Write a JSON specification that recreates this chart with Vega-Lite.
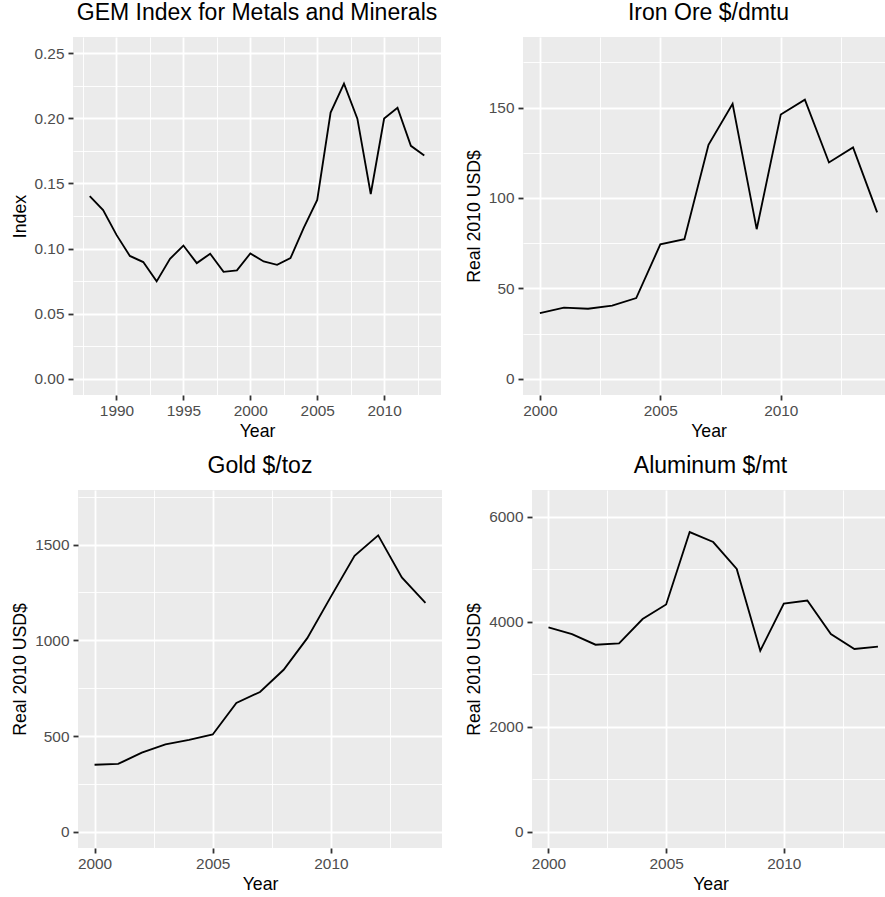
{
  "$schema": "https://vega.github.io/schema/vega-lite/v6.json",
  "padding": {"left": 11, "top": 2, "right": 0, "bottom": 0},
  "background": "#FFFFFF",
  "datasets": {
    "gem": [
      {"year": 1988, "value": 0.1403}, {"year": 1989, "value": 0.1296}, {"year": 1990, "value": 0.1105},
      {"year": 1991, "value": 0.0943}, {"year": 1992, "value": 0.0896}, {"year": 1993, "value": 0.0748},
      {"year": 1994, "value": 0.0921}, {"year": 1995, "value": 0.1023}, {"year": 1996, "value": 0.0888},
      {"year": 1997, "value": 0.0960}, {"year": 1998, "value": 0.0821}, {"year": 1999, "value": 0.0832},
      {"year": 2000, "value": 0.0962}, {"year": 2001, "value": 0.0901}, {"year": 2002, "value": 0.0875},
      {"year": 2003, "value": 0.0926}, {"year": 2004, "value": 0.1160}, {"year": 2005, "value": 0.1373},
      {"year": 2006, "value": 0.2044}, {"year": 2007, "value": 0.2266}, {"year": 2008, "value": 0.1998},
      {"year": 2009, "value": 0.1419}, {"year": 2010, "value": 0.1998}, {"year": 2011, "value": 0.2082},
      {"year": 2012, "value": 0.1789}, {"year": 2013, "value": 0.1715}
    ],
    "iron": [
      {"year": 2000, "value": 36.3}, {"year": 2001, "value": 39.3}, {"year": 2002, "value": 38.7},
      {"year": 2003, "value": 40.4}, {"year": 2004, "value": 44.6}, {"year": 2005, "value": 74.3},
      {"year": 2006, "value": 77.2}, {"year": 2007, "value": 129.4}, {"year": 2008, "value": 152.0},
      {"year": 2009, "value": 82.7}, {"year": 2010, "value": 146.1}, {"year": 2011, "value": 154.3},
      {"year": 2012, "value": 119.6}, {"year": 2013, "value": 127.9}, {"year": 2014, "value": 92.0}
    ],
    "gold": [
      {"year": 2000, "value": 350}, {"year": 2001, "value": 354}, {"year": 2002, "value": 413},
      {"year": 2003, "value": 456}, {"year": 2004, "value": 480}, {"year": 2005, "value": 508},
      {"year": 2006, "value": 673}, {"year": 2007, "value": 730}, {"year": 2008, "value": 846},
      {"year": 2009, "value": 1011}, {"year": 2010, "value": 1228}, {"year": 2011, "value": 1441},
      {"year": 2012, "value": 1548}, {"year": 2013, "value": 1328}, {"year": 2014, "value": 1196}
    ],
    "alu": [
      {"year": 2000, "value": 3892}, {"year": 2001, "value": 3766}, {"year": 2002, "value": 3563},
      {"year": 2003, "value": 3589}, {"year": 2004, "value": 4051}, {"year": 2005, "value": 4329},
      {"year": 2006, "value": 5709}, {"year": 2007, "value": 5519}, {"year": 2008, "value": 5006},
      {"year": 2009, "value": 3449}, {"year": 2010, "value": 4348}, {"year": 2011, "value": 4405},
      {"year": 2012, "value": 3766}, {"year": 2013, "value": 3481}, {"year": 2014, "value": 3525}
    ]
  },
  "center": true,
  "spacing": 13,
  "vconcat": [
    {
      "bounds": "flush",
      "spacing": 82,
      "hconcat": [
        {
          "title": "GEM Index for Metals and Minerals",
          "width": 368,
          "height": 358,
          "data": {"name": "gem"},
          "mark": {"type": "line"},
          "encoding": {
            "x": {
              "field": "year", "type": "quantitative", "title": "Year",
              "scale": {"domain": [1986.75, 2014.25], "nice": false, "zero": false},
              "axis": {
                "values": [1987.5, 1990, 1992.5, 1995, 1997.5, 2000, 2002.5, 2005, 2007.5, 2010, 2012.5],
                "format": "d",
                "labelExpr": "datum.value % 5 === 0 ? datum.label : ''",
                "tickOpacity": {"condition": {"test": "datum.value % 5 === 0", "value": 1}, "value": 0},
                "gridWidth": {"condition": {"test": "datum.value % 5 === 0", "value": 1.8}, "value": 0.9}
              }
            },
            "y": {
              "field": "value", "type": "quantitative", "title": "Index",
              "scale": {"domain": [-0.0125, 0.2625], "nice": false, "zero": false},
              "axis": {
                "values": [0, 0.025, 0.05, 0.075, 0.1, 0.125, 0.15, 0.175, 0.2, 0.225, 0.25],
                "format": ".2f",
                "labelExpr": "abs(datum.value*20 - round(datum.value*20)) < 0.001 ? datum.label : ''",
                "tickOpacity": {"condition": {"test": "abs(datum.value*20 - round(datum.value*20)) < 0.001", "value": 1}, "value": 0},
                "gridWidth": {"condition": {"test": "abs(datum.value*20 - round(datum.value*20)) < 0.001", "value": 1.8}, "value": 0.9}
              }
            }
          }
        },
        {
          "title": "Iron Ore $/dmtu",
          "width": 371,
          "height": 358,
          "data": {"name": "iron"},
          "mark": {"type": "line"},
          "encoding": {
            "x": {
              "field": "year", "type": "quantitative", "title": "Year",
              "scale": {"domain": [1999.3, 2014.7], "nice": false, "zero": false},
              "axis": {
                "values": [2000, 2002.5, 2005, 2007.5, 2010, 2012.5],
                "format": "d",
                "labelExpr": "datum.value % 5 === 0 ? datum.label : ''",
                "tickOpacity": {"condition": {"test": "datum.value % 5 === 0", "value": 1}, "value": 0},
                "gridWidth": {"condition": {"test": "datum.value % 5 === 0", "value": 1.8}, "value": 0.9}
              }
            },
            "y": {
              "field": "value", "type": "quantitative", "title": "Real 2010 USD$",
              "scale": {"domain": [-9, 189], "nice": false, "zero": false},
              "axis": {
                "values": [0, 25, 50, 75, 100, 125, 150, 175],
                "format": "d",
                "labelExpr": "datum.value % 50 === 0 ? datum.label : ''",
                "tickOpacity": {"condition": {"test": "datum.value % 50 === 0", "value": 1}, "value": 0},
                "gridWidth": {"condition": {"test": "datum.value % 50 === 0", "value": 1.8}, "value": 0.9}
              }
            }
          }
        }
      ]
    },
    {
      "bounds": "flush",
      "spacing": 90,
      "hconcat": [
        {
          "title": "Gold $/toz",
          "width": 364,
          "height": 358,
          "data": {"name": "gold"},
          "mark": {"type": "line"},
          "encoding": {
            "x": {
              "field": "year", "type": "quantitative", "title": "Year",
              "scale": {"domain": [1999.3, 2014.7], "nice": false, "zero": false},
              "axis": {
                "values": [2000, 2002.5, 2005, 2007.5, 2010, 2012.5],
                "format": "d",
                "labelExpr": "datum.value % 5 === 0 ? datum.label : ''",
                "tickOpacity": {"condition": {"test": "datum.value % 5 === 0", "value": 1}, "value": 0},
                "gridWidth": {"condition": {"test": "datum.value % 5 === 0", "value": 1.8}, "value": 0.9}
              }
            },
            "y": {
              "field": "value", "type": "quantitative", "title": "Real 2010 USD$",
              "scale": {"domain": [-85, 1785], "nice": false, "zero": false},
              "axis": {
                "values": [0, 250, 500, 750, 1000, 1250, 1500, 1750],
                "format": "d",
                "labelExpr": "datum.value % 500 === 0 ? datum.label : ''",
                "tickOpacity": {"condition": {"test": "datum.value % 500 === 0", "value": 1}, "value": 0},
                "gridWidth": {"condition": {"test": "datum.value % 500 === 0", "value": 1.8}, "value": 0.9}
              }
            }
          }
        },
        {
          "title": "Aluminum $/mt",
          "width": 357,
          "height": 358,
          "data": {"name": "alu"},
          "mark": {"type": "line"},
          "encoding": {
            "x": {
              "field": "year", "type": "quantitative", "title": "Year",
              "scale": {"domain": [1999.3, 2014.47], "nice": false, "zero": false},
              "axis": {
                "values": [2000, 2002.5, 2005, 2007.5, 2010, 2012.5],
                "format": "d",
                "labelExpr": "datum.value % 5 === 0 ? datum.label : ''",
                "tickOpacity": {"condition": {"test": "datum.value % 5 === 0", "value": 1}, "value": 0},
                "gridWidth": {"condition": {"test": "datum.value % 5 === 0", "value": 1.8}, "value": 0.9}
              }
            },
            "y": {
              "field": "value", "type": "quantitative", "title": "Real 2010 USD$",
              "scale": {"domain": [-310, 6510], "nice": false, "zero": false},
              "axis": {
                "values": [0, 1000, 2000, 3000, 4000, 5000, 6000],
                "format": "d",
                "labelExpr": "datum.value % 2000 === 0 ? datum.label : ''",
                "tickOpacity": {"condition": {"test": "datum.value % 2000 === 0", "value": 1}, "value": 0},
                "gridWidth": {"condition": {"test": "datum.value % 2000 === 0", "value": 1.8}, "value": 0.9}
              }
            }
          }
        }
      ]
    }
  ],
  "config": {
    "font": "Liberation Sans",
    "view": {"fill": "#EBEBEB", "stroke": null},
    "axis": {
      "domain": false,
      "grid": true,
      "gridColor": "#FFFFFF",
      "gridOpacity": 1,
      "tickColor": "#333333",
      "tickWidth": 1.8,
      "tickSize": 5,
      "labelColor": "#4D4D4D",
      "labelFont": "Liberation Sans",
      "labelFontSize": 15.4,
      "labelOverlap": false,
      "labelFlush": false,
      "titleFont": "Liberation Sans",
      "titleFontSize": 17.7,
      "titleFontWeight": "normal",
      "titleColor": "#000000"
    },
    "axisX": {"labelPadding": 3, "titlePadding": 4},
    "axisY": {"labelPadding": 4, "titlePadding": 5},
    "title": {"font": "Liberation Sans", "fontSize": 23, "fontWeight": "normal", "color": "#000000", "anchor": "middle", "baseline": "alphabetic", "offset": 12},
    "line": {"color": "#000000", "strokeWidth": 1.85}
  }
}
